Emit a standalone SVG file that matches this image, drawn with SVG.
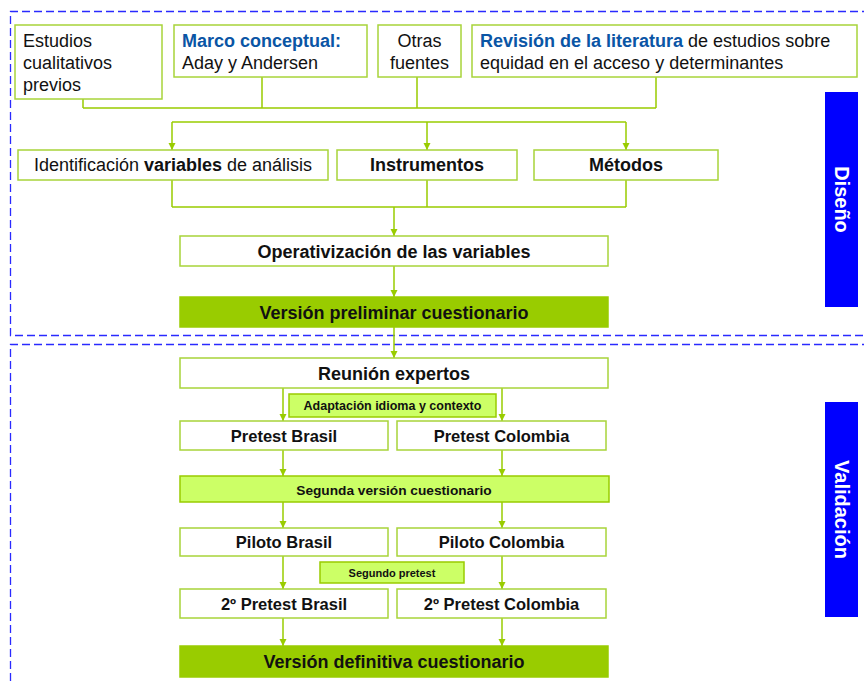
<svg xmlns="http://www.w3.org/2000/svg" width="864" height="682" viewBox="0 0 864 682">
<defs>
<style>
.box{fill:#fff;stroke:#A8D43A;stroke-width:1.5}
.dark{fill:#99CC00;stroke:#99CC00;stroke-width:1.5}
.light{fill:#CCFF66;stroke:#99CC00;stroke-width:1.5}
.con{fill:none;stroke:#99CC00;stroke-width:1.5}
.arr{fill:none;stroke:#99CC00;stroke-width:1.5;marker-end:url(#ah)}
.dash{fill:none;stroke:#2A2AFF;stroke-width:1.3;stroke-dasharray:8 4}
text{font-family:"Liberation Sans",Arial,sans-serif;fill:#111}
.t18{font-size:18px}
.b{font-weight:bold}
.c{text-anchor:middle}
.blue{fill:#0A55A5;font-weight:bold}
.band{fill:#0000FF}
.bandt{fill:#fff;font-size:20px;font-weight:bold;text-anchor:middle}
</style>
<marker id="ah" viewBox="0 0 8 8" refX="8" refY="4" markerWidth="7" markerHeight="8" markerUnits="userSpaceOnUse" orient="auto">
<path d="M0,0 L8,4 L0,8 z" fill="#99CC00"/>
</marker>
</defs>
<rect width="864" height="682" fill="#fff"/>

<g id="frames">
<path class="dash" d="M870 11.5 H10.5 V335.5 H870"/>
<path class="dash" d="M870 344.5 H10.5 V690"/>
</g>

<g id="connectors">
<path class="con" d="M83 99 V108 M262 77 V108 M417 77 V108 M656 77 V108 M83 108 H656"/>
<path class="con" d="M172 122 H626"/>
<path class="arr" d="M172 122 V150"/>
<path class="arr" d="M427 122 V150"/>
<path class="arr" d="M626 122 V150"/>
<path class="con" d="M172 180 V207 M427 180 V207 M626 180 V207 M172 207 H626"/>
<path class="arr" d="M394 207 V236"/>
<path class="arr" d="M394 266 V297"/>
<path class="arr" d="M394 327 V358"/>
<path class="arr" d="M283 388 V421"/>
<path class="arr" d="M502 388 V421"/>
<path class="arr" d="M283 450 V476"/>
<path class="arr" d="M502 450 V476"/>
<path class="arr" d="M283 502 V528"/>
<path class="arr" d="M502 502 V528"/>
<path class="arr" d="M283 556 V589"/>
<path class="arr" d="M502 556 V589"/>
<path class="arr" d="M283 618 V646"/>
<path class="arr" d="M502 618 V646"/>
</g>

<g id="estudios">
<rect class="box" x="15" y="25" width="147" height="74"/>
<text class="t18" x="23" y="47">Estudios</text>
<text class="t18" x="23" y="69">cualitativos</text>
<text class="t18" x="23" y="90.5">previos</text>
</g>
<g id="marco">
<rect class="box" x="174" y="25" width="193" height="52"/>
<text class="t18 blue" x="182" y="47">Marco conceptual:</text>
<text class="t18" x="182" y="69">Aday y Andersen</text>
</g>
<g id="otras">
<rect class="box" x="378" y="25" width="83" height="52"/>
<text class="t18 c" x="419.5" y="47">Otras</text>
<text class="t18 c" x="419.5" y="69">fuentes</text>
</g>
<g id="revision">
<rect class="box" x="472" y="25" width="385" height="52"/>
<text class="t18" x="480" y="47"><tspan class="blue">Revisión de la literatura</tspan> de estudios sobre</text>
<text class="t18" x="480" y="69">equidad en el acceso y determinantes</text>
</g>

<g id="identificacion">
<rect class="box" x="18" y="150" width="310" height="30"/>
<text class="t18 c" x="173" y="171.4">Identificación <tspan class="b">variables</tspan> de análisis</text>
</g>
<g id="instrumentos">
<rect class="box" x="337" y="150" width="180" height="30"/>
<text class="t18 c b" x="427" y="171.4">Instrumentos</text>
</g>
<g id="metodos">
<rect class="box" x="534" y="150" width="184" height="30"/>
<text class="t18 c b" x="626" y="171.4">Métodos</text>
</g>

<g id="operativizacion">
<rect class="box" x="180" y="236" width="428" height="30"/>
<text class="t18 c b" x="394" y="257.6">Operativización de las variables</text>
</g>
<g id="preliminar">
<rect class="dark" x="180" y="297" width="428" height="30"/>
<text class="t18 c b" x="394" y="318.6">Versión preliminar cuestionario</text>
</g>

<g id="reunion">
<rect class="box" x="180" y="358" width="428" height="30"/>
<text class="t18 c b" x="394" y="379.6">Reunión expertos</text>
</g>
<g id="adaptacion">
<rect class="light" x="289" y="394" width="207" height="23"/>
<text class="c b" style="font-size:12.5px" x="392.5" y="410.3">Adaptación idioma y contexto</text>
</g>
<g id="pretest-brasil">
<rect class="box" x="180" y="421" width="208" height="29"/>
<text class="c b" style="font-size:16.5px" x="284" y="441.8">Pretest Brasil</text>
</g>
<g id="pretest-colombia">
<rect class="box" x="397" y="421" width="209" height="29"/>
<text class="c b" style="font-size:16.5px" x="501.5" y="441.8">Pretest Colombia</text>
</g>
<g id="segunda-version">
<rect class="light" x="180" y="476" width="429" height="26"/>
<text class="c b" style="font-size:13.7px" x="394" y="494.6">Segunda versión cuestionario</text>
</g>
<g id="piloto-brasil">
<rect class="box" x="180" y="528" width="208" height="28"/>
<text class="c b" style="font-size:16.5px" x="284" y="548.4">Piloto Brasil</text>
</g>
<g id="piloto-colombia">
<rect class="box" x="397" y="528" width="209" height="28"/>
<text class="c b" style="font-size:16.5px" x="501.5" y="548.4">Piloto Colombia</text>
</g>
<g id="segundo-pretest">
<rect class="light" x="320" y="562" width="144" height="21"/>
<text class="c b" style="font-size:11px" x="392" y="576.6">Segundo pretest</text>
</g>
<g id="pretest2-brasil">
<rect class="box" x="180" y="589" width="208" height="29"/>
<text class="c b" style="font-size:16.5px" x="284" y="609.6">2º Pretest Brasil</text>
</g>
<g id="pretest2-colombia">
<rect class="box" x="397" y="589" width="209" height="29"/>
<text class="c b" style="font-size:16.5px" x="501.5" y="609.6">2º Pretest Colombia</text>
</g>
<g id="definitiva">
<rect class="dark" x="180" y="646" width="428" height="31"/>
<text class="t18 c b" x="394" y="667.8">Versión definitiva cuestionario</text>
</g>

<g id="diseno">
<rect class="band" x="825" y="92" width="33" height="215"/>
<text class="bandt" transform="translate(834.5 199.5) rotate(90)">Diseño</text>
</g>
<g id="validacion">
<rect class="band" x="825" y="402" width="33" height="215"/>
<text class="bandt" transform="translate(834.5 509.5) rotate(90)">Validación</text>
</g>
</svg>
